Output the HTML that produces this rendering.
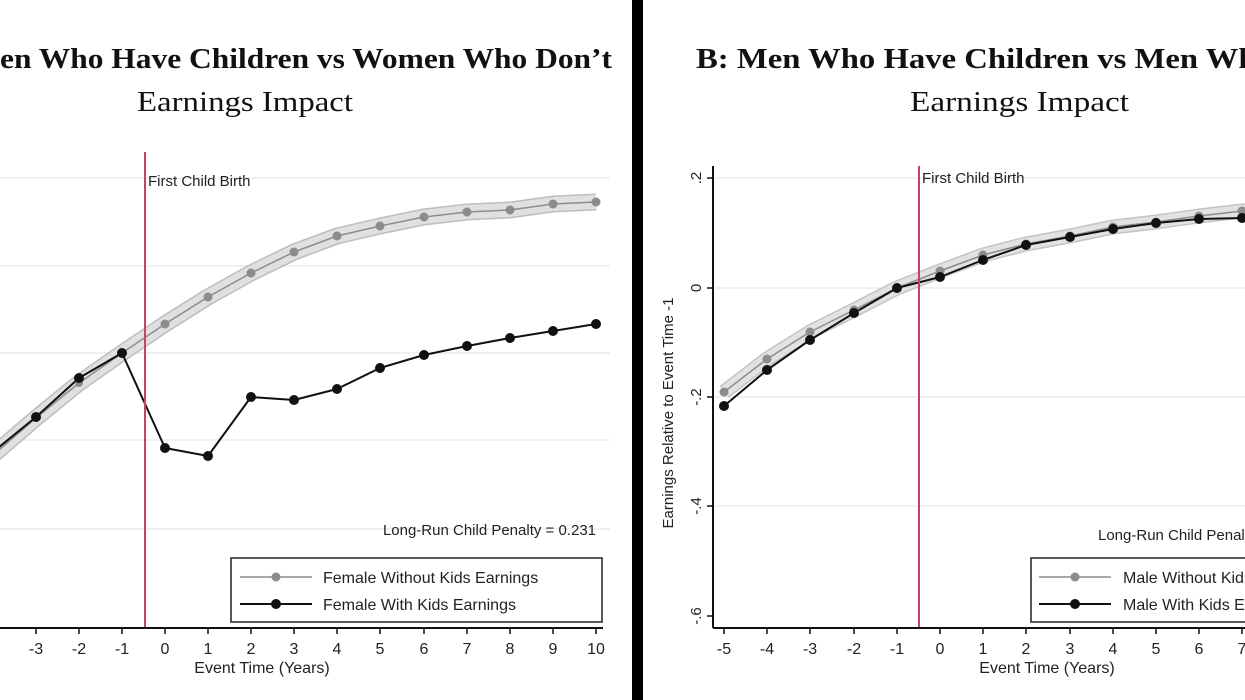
<!DOCTYPE html>
<html><head><meta charset="utf-8"><style>
html,body{margin:0;padding:0;background:#fff;}
svg{display:block;}
.t{font-family:"Liberation Sans",sans-serif;fill:#222;}
.s{font-family:"Liberation Serif",serif;fill:#111;}
</style></head><body>
<svg width="1245" height="700" viewBox="0 0 1245 700">
<rect width="1245" height="700" fill="#fff"/>
<!-- titles -->
<text class="s" x="0" y="68" font-size="28" font-weight="bold" textLength="612" lengthAdjust="spacingAndGlyphs">en Who Have Children vs Women Who Don’t</text>
<text class="s" x="137" y="111" font-size="29" textLength="216" lengthAdjust="spacingAndGlyphs">Earnings Impact</text>
<text class="s" x="696" y="68" font-size="28" font-weight="bold" textLength="665" lengthAdjust="spacingAndGlyphs">B: Men Who Have Children vs Men Who Don’t</text>
<text class="s" x="910" y="111" font-size="29" textLength="219" lengthAdjust="spacingAndGlyphs">Earnings Impact</text>

<!-- LEFT PANEL -->
<g stroke="#ececec" stroke-width="1.5">
<line x1="0" y1="178" x2="610" y2="178"/><line x1="0" y1="266" x2="610" y2="266"/>
<line x1="0" y1="353" x2="610" y2="353"/><line x1="0" y1="440" x2="610" y2="440"/>
<line x1="0" y1="529" x2="610" y2="529"/>
</g>
<g fill="none" stroke-linejoin="round">
<polyline points="-50,490 -7,455 36,418 79,383 122,353 165,324 208,297 251,273 294,252 337,236 380,226 424,217 467,212 510,210 553,204 596,202" stroke="#bdbdbd" stroke-width="17"/>
<polyline points="-50,490 -7,455 36,418 79,383 122,353 165,324 208,297 251,273 294,252 337,236 380,226 424,217 467,212 510,210 553,204 596,202" stroke="#e0e0e0" stroke-width="14"/>
<polyline points="-50,490 -7,455 36,418 79,383 122,353 165,324 208,297 251,273 294,252 337,236 380,226 424,217 467,212 510,210 553,204 596,202" stroke="#8c8c8c" stroke-width="1.5"/>
<polyline points="-50,492 -7,452 36,417 79,378 122,353 165,448 208,456 251,397 294,400 337,389 380,368 424,355 467,346 510,338 553,331 596,324" stroke="#111" stroke-width="2"/>
</g>
<g fill="#8c8c8c">
<circle cx="36" cy="418" r="4"/><circle cx="79" cy="383" r="4"/><circle cx="165" cy="324" r="4.5"/><circle cx="208" cy="297" r="4.5"/><circle cx="251" cy="273" r="4.5"/><circle cx="294" cy="252" r="4.5"/><circle cx="337" cy="236" r="4.5"/><circle cx="380" cy="226" r="4.5"/><circle cx="424" cy="217" r="4.5"/><circle cx="467" cy="212" r="4.5"/><circle cx="510" cy="210" r="4.5"/><circle cx="553" cy="204" r="4.5"/><circle cx="596" cy="202" r="4.5"/>
</g>
<g fill="#111">
<circle cx="36" cy="417" r="5"/><circle cx="79" cy="378" r="5"/><circle cx="122" cy="353" r="5"/><circle cx="165" cy="448" r="5"/><circle cx="208" cy="456" r="5"/><circle cx="251" cy="397" r="5"/><circle cx="294" cy="400" r="5"/><circle cx="337" cy="389" r="5"/><circle cx="380" cy="368" r="5"/><circle cx="424" cy="355" r="5"/><circle cx="467" cy="346" r="5"/><circle cx="510" cy="338" r="5"/><circle cx="553" cy="331" r="5"/><circle cx="596" cy="324" r="5"/>
</g>
<line x1="145" y1="152" x2="145" y2="628" stroke="#c0485e" stroke-width="2"/>
<text class="t" x="148" y="186" font-size="15">First Child Birth</text>
<line x1="0" y1="628" x2="603" y2="628" stroke="#111" stroke-width="2"/>
<g stroke="#111" stroke-width="1.5">
<line x1="-7" y1="628" x2="-7" y2="634"/><line x1="36" y1="628" x2="36" y2="634"/><line x1="79" y1="628" x2="79" y2="634"/><line x1="122" y1="628" x2="122" y2="634"/><line x1="165" y1="628" x2="165" y2="634"/><line x1="208" y1="628" x2="208" y2="634"/><line x1="251" y1="628" x2="251" y2="634"/><line x1="294" y1="628" x2="294" y2="634"/><line x1="337" y1="628" x2="337" y2="634"/><line x1="380" y1="628" x2="380" y2="634"/><line x1="424" y1="628" x2="424" y2="634"/><line x1="467" y1="628" x2="467" y2="634"/><line x1="510" y1="628" x2="510" y2="634"/><line x1="553" y1="628" x2="553" y2="634"/><line x1="596" y1="628" x2="596" y2="634"/>
</g>
<g class="t" font-size="16" text-anchor="middle">
<text x="-4" y="654">3</text><text x="36" y="654">-3</text><text x="79" y="654">-2</text><text x="122" y="654">-1</text><text x="165" y="654">0</text><text x="208" y="654">1</text><text x="251" y="654">2</text><text x="294" y="654">3</text><text x="337" y="654">4</text><text x="380" y="654">5</text><text x="424" y="654">6</text><text x="467" y="654">7</text><text x="510" y="654">8</text><text x="553" y="654">9</text><text x="596" y="654">10</text>
<text x="262" y="673">Event Time (Years)</text>
</g>
<text class="t" x="596" y="535" font-size="15" text-anchor="end">Long-Run Child Penalty = 0.231</text>
<rect x="231" y="558" width="371" height="64" fill="#fff" stroke="#222" stroke-width="1.5"/>
<line x1="240" y1="577" x2="312" y2="577" stroke="#8c8c8c" stroke-width="1.5"/><circle cx="276" cy="577" r="4.5" fill="#8c8c8c"/>
<line x1="240" y1="604" x2="312" y2="604" stroke="#111" stroke-width="2"/><circle cx="276" cy="604" r="5" fill="#111"/>
<text class="t" x="323" y="583" font-size="16">Female Without Kids Earnings</text>
<text class="t" x="323" y="610" font-size="16">Female With Kids Earnings</text>

<!-- separator -->
<rect x="632" y="0" width="11" height="700" fill="#000"/>

<!-- RIGHT PANEL -->
<g stroke="#ececec" stroke-width="1.5">
<line x1="715" y1="178" x2="1245" y2="178"/><line x1="715" y1="288" x2="1245" y2="288"/>
<line x1="715" y1="397" x2="1245" y2="397"/><line x1="715" y1="506" x2="1245" y2="506"/>
</g>
<g fill="none" stroke-linejoin="round">
<polyline points="724,392 767,359 810,332 854,310 897,288 940,271 983,255 1026,244 1070,236 1113,227 1156,222 1199,216 1242,211 1286,208" stroke="#c4c4c4" stroke-width="15"/>
<polyline points="724,392 767,359 810,332 854,310 897,288 940,271 983,255 1026,244 1070,236 1113,227 1156,222 1199,216 1242,211 1286,208" stroke="#e2e2e2" stroke-width="12"/>
<polyline points="724,392 767,359 810,332 854,310 897,288 940,271 983,255 1026,244 1070,236 1113,227 1156,222 1199,216 1242,211 1286,208" stroke="#8c8c8c" stroke-width="1.5"/>
<polyline points="724,406 767,370 810,340 854,313 897,288 940,277 983,260 1026,245 1070,237 1113,229 1156,223 1199,219 1242,218 1286,216" stroke="#111" stroke-width="2"/>
</g>
<g fill="#8c8c8c">
<circle cx="724" cy="392" r="4.5"/><circle cx="767" cy="359" r="4.5"/><circle cx="810" cy="332" r="4.5"/><circle cx="854" cy="310" r="4.5"/><circle cx="940" cy="271" r="4.5"/><circle cx="983" cy="255" r="4.5"/><circle cx="1026" cy="244" r="4.5"/><circle cx="1070" cy="236" r="4.5"/><circle cx="1113" cy="227" r="4.5"/><circle cx="1156" cy="222" r="4.5"/><circle cx="1199" cy="216" r="4.5"/><circle cx="1242" cy="211" r="4.5"/>
</g>
<g fill="#111">
<circle cx="724" cy="406" r="5"/><circle cx="767" cy="370" r="5"/><circle cx="810" cy="340" r="5"/><circle cx="854" cy="313" r="5"/><circle cx="897" cy="288" r="5"/><circle cx="940" cy="277" r="5"/><circle cx="983" cy="260" r="5"/><circle cx="1026" cy="245" r="5"/><circle cx="1070" cy="237" r="5"/><circle cx="1113" cy="229" r="5"/><circle cx="1156" cy="223" r="5"/><circle cx="1199" cy="219" r="5"/><circle cx="1242" cy="218" r="5"/>
</g>
<line x1="919" y1="166" x2="919" y2="628" stroke="#c0485e" stroke-width="2"/>
<text class="t" x="922" y="183" font-size="15">First Child Birth</text>
<line x1="713" y1="166" x2="713" y2="628" stroke="#111" stroke-width="2"/>
<line x1="713" y1="628" x2="1245" y2="628" stroke="#111" stroke-width="2"/>
<g stroke="#111" stroke-width="1.5">
<line x1="707" y1="178" x2="713" y2="178"/><line x1="707" y1="288" x2="713" y2="288"/><line x1="707" y1="397" x2="713" y2="397"/><line x1="707" y1="506" x2="713" y2="506"/><line x1="707" y1="616" x2="713" y2="616"/>
<line x1="724" y1="628" x2="724" y2="634"/><line x1="767" y1="628" x2="767" y2="634"/><line x1="810" y1="628" x2="810" y2="634"/><line x1="854" y1="628" x2="854" y2="634"/><line x1="897" y1="628" x2="897" y2="634"/><line x1="940" y1="628" x2="940" y2="634"/><line x1="983" y1="628" x2="983" y2="634"/><line x1="1026" y1="628" x2="1026" y2="634"/><line x1="1070" y1="628" x2="1070" y2="634"/><line x1="1113" y1="628" x2="1113" y2="634"/><line x1="1156" y1="628" x2="1156" y2="634"/><line x1="1199" y1="628" x2="1199" y2="634"/><line x1="1242" y1="628" x2="1242" y2="634"/>
</g>
<g class="t" font-size="15" text-anchor="middle">
<text transform="translate(701,178) rotate(-90)">.2</text>
<text transform="translate(701,288) rotate(-90)">0</text>
<text transform="translate(701,397) rotate(-90)">-.2</text>
<text transform="translate(701,506) rotate(-90)">-.4</text>
<text transform="translate(701,616) rotate(-90)">-.6</text>
<text transform="translate(673,413) rotate(-90)">Earnings Relative to Event Time -1</text>
</g>
<g class="t" font-size="16" text-anchor="middle">
<text x="724" y="654">-5</text><text x="767" y="654">-4</text><text x="810" y="654">-3</text><text x="854" y="654">-2</text><text x="897" y="654">-1</text><text x="940" y="654">0</text><text x="983" y="654">1</text><text x="1026" y="654">2</text><text x="1070" y="654">3</text><text x="1113" y="654">4</text><text x="1156" y="654">5</text><text x="1199" y="654">6</text><text x="1242" y="654">7</text>
<text x="1047" y="673">Event Time (Years)</text>
</g>
<text class="t" x="1098" y="540" font-size="15">Long-Run Child Penalty = 0.009</text>
<rect x="1031" y="558" width="300" height="64" fill="#fff" stroke="#222" stroke-width="1.5"/>
<line x1="1039" y1="577" x2="1111" y2="577" stroke="#8c8c8c" stroke-width="1.5"/><circle cx="1075" cy="577" r="4.5" fill="#8c8c8c"/>
<line x1="1039" y1="604" x2="1111" y2="604" stroke="#111" stroke-width="2"/><circle cx="1075" cy="604" r="5" fill="#111"/>
<text class="t" x="1123" y="583" font-size="16">Male Without Kids Earnings</text>
<text class="t" x="1123" y="610" font-size="16">Male With Kids Earnings</text>
</svg>
</body></html>
